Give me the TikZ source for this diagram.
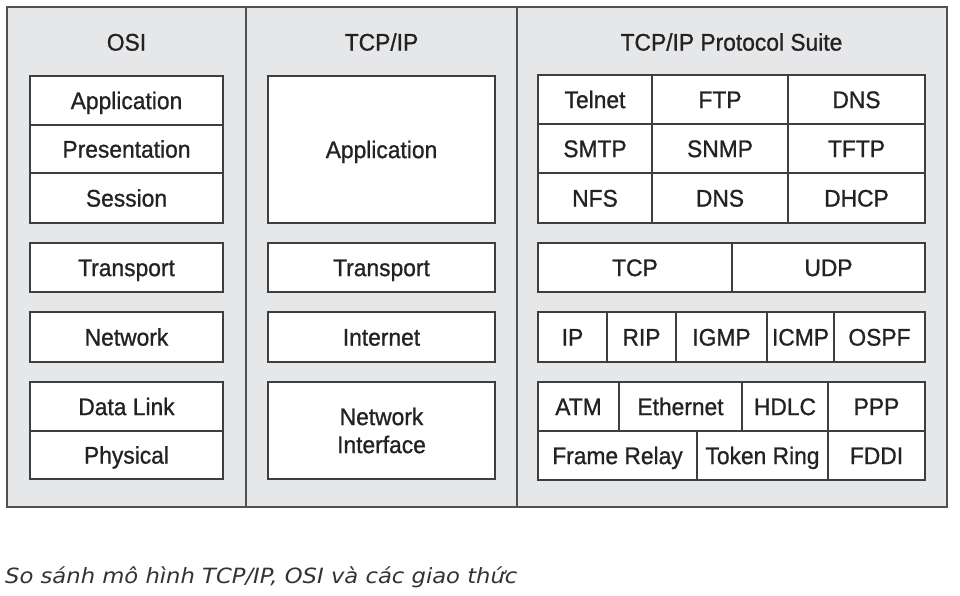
\documentclass[tikz,border=0pt]{standalone}
\usepackage{fontspec}
\setmainfont{Liberation Sans}[FakeStretch=0.95,FakeBold=0.9]
\newfontfamily\capfont{DejaVu Sans}[FakeStretch=1.08]
\definecolor{panelgray}{RGB}{230,231,232}
\definecolor{linegray}{RGB}{62,62,62}
\definecolor{framegray}{RGB}{80,80,80}
\definecolor{txtgray}{RGB}{35,33,34}
\definecolor{capgray}{RGB}{51,51,51}
\tikzset{
  cell/.style={draw=linegray, line width=1.9pt, fill=white, inner sep=0pt, outer sep=0pt,
    font=\fontsize{24}{28}\selectfont, text=txtgray, text height=17.2pt, text depth=0pt},
  panel/.style={draw=framegray, line width=1.9pt, fill=panelgray, inner sep=0pt, outer sep=0pt},
  head/.style={font=\fontsize{24}{28}\selectfont, text=txtgray, inner sep=0pt, text height=17.2pt, text depth=0pt},
  twoline/.style={font=\fontsize{24}{28}\selectfont, text=txtgray, inner sep=0pt, align=center},
  caption/.style={font=\capfont\itshape\fontsize{21}{24}\selectfont, text=capgray, inner sep=0pt}
}
\newcommand\cellbox[7][cell]{\node[#1, minimum width={#5pt-#3pt}, minimum height={#6pt-#4pt}] (#2) at ({(#3+#5)/2},{(#4+#6)/2}) {#7};}
\begin{document}
\begin{tikzpicture}[x=1pt,y=-1pt]
\useasboundingbox[fill=white] (0,0) rectangle (960,596);
% panels
\cellbox[panel]{colosi}{7}{7}{246}{507}{}
\cellbox[panel]{coltcp}{246}{7}{517}{507}{}
\cellbox[panel]{colsuite}{517}{7}{947}{507}{}
% headers
\node[head] (hosi) at (126.5,42) {OSI};
\node[head] (htcp) at (381.5,42) {TCP/IP};
\node[head] (hsuite) at (731.5,42) {TCP/IP Protocol Suite};
% OSI
\cellbox{osiApp}{30}{76}{223}{125}{Application}
\cellbox{osiPres}{30}{125}{223}{173}{Presentation}
\cellbox{osiSes}{30}{173}{223}{223}{Session}
\cellbox{osiTra}{30}{243}{223}{292}{Transport}
\cellbox{osiNet}{30}{312}{223}{362}{Network}
\cellbox{osiDL}{30}{382}{223}{431}{Data Link}
\cellbox{osiPhy}{30}{431}{223}{479}{Physical}
% TCP/IP
\cellbox{tcpApp}{268}{76}{495}{223}{Application}
\cellbox{tcpTra}{268}{243}{495}{292}{Transport}
\cellbox{tcpInt}{268}{312}{495}{362}{Internet}
\cellbox{tcpNI}{268}{382}{495}{479}{}
\node[twoline] (tcpNIlabel) at (tcpNI.center) {Network\\Interface};
% Suite - application
\cellbox{telnet}{538}{75}{652}{124}{Telnet}
\cellbox{ftp}{652}{75}{788}{124}{FTP}
\cellbox{dnsA}{788}{75}{925}{124}{DNS}
\cellbox{smtp}{538}{124}{652}{173}{SMTP}
\cellbox{snmp}{652}{124}{788}{173}{SNMP}
\cellbox{tftp}{788}{124}{925}{173}{TFTP}
\cellbox{nfs}{538}{173}{652}{223}{NFS}
\cellbox{dnsB}{652}{173}{788}{223}{DNS}
\cellbox{dhcp}{788}{173}{925}{223}{DHCP}
% transport
\cellbox{tcp}{538}{243}{732}{292}{TCP}
\cellbox{udp}{732}{243}{925}{292}{UDP}
% internet
\cellbox{ip}{538}{312}{607}{362}{IP}
\cellbox{rip}{607}{312}{676}{362}{RIP}
\cellbox{igmp}{676}{312}{767}{362}{IGMP}
\cellbox{icmp}{767}{312}{834}{362}{ICMP}
\cellbox{ospf}{834}{312}{925}{362}{OSPF}
% network interface
\cellbox{atm}{538}{382}{619}{431}{ATM}
\cellbox{eth}{619}{382}{742}{431}{Ethernet}
\cellbox{hdlc}{742}{382}{828}{431}{HDLC}
\cellbox{ppp}{828}{382}{925}{431}{PPP}
\cellbox{frame}{538}{431}{697}{480}{Frame Relay}
\cellbox{token}{697}{431}{828}{480}{Token Ring}
\cellbox{fddi}{828}{431}{925}{480}{FDDI}
% caption
\node[caption, anchor=base west] (cap) at (5,583) {So sánh mô hình TCP/IP, OSI và các giao thức};
\end{tikzpicture}
\end{document}
